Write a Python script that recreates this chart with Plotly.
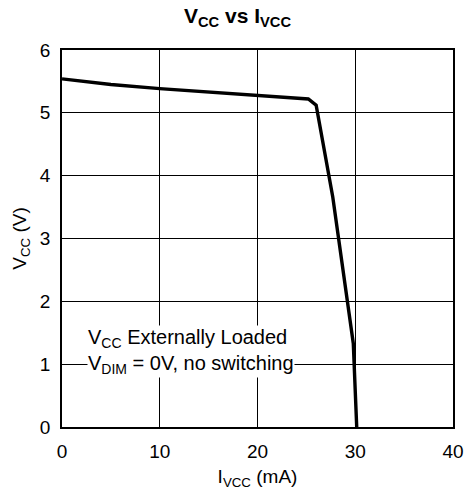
import plotly.graph_objects as go

i_vcc = [0.0, 5.0, 10.0, 15.0, 20.0, 25.2, 26.0, 27.7, 29.8, 30.15]
v_cc = [5.54, 5.45, 5.385, 5.33, 5.28, 5.22, 5.12, 3.66, 1.33, 0.0]

x_ticks = [0, 10, 20, 30, 40]
y_ticks = [0, 1, 2, 3, 4, 5, 6]

FONT = "Liberation Sans, Arial, sans-serif"

fig = go.Figure()
fig.add_trace(go.Scatter(x=i_vcc, y=v_cc, mode="lines",
                         line=dict(color="black", width=3.4, shape="linear"),
                         showlegend=False, hoverinfo="skip"))

fig.update_layout(
    width=475, height=499,
    margin=dict(l=62, r=22, t=50, b=72),
    paper_bgcolor="white", plot_bgcolor="white",
    font=dict(family=FONT, size=19, color="black"),
    title=dict(text="<b>V<sub>CC</sub> vs I<sub>VCC</sub></b>",
               x=0.5, xanchor="center", y=0.984, yanchor="top",
               font=dict(family=FONT, size=21, color="black")),
    xaxis=dict(range=[0, 40], tickvals=x_ticks, ticktext=[str(v) for v in x_ticks],
               showgrid=True, gridcolor="black", gridwidth=1,
               showline=True, linecolor="black", linewidth=1.5, mirror=True,
               ticks="", zeroline=False, automargin=False, ticklabelstandoff=6,
               tickfont=dict(family=FONT, size=19),
               title=dict(text="I<sub>VCC</sub> (mA)", standoff=9,
                          font=dict(family=FONT, size=19))),
    yaxis=dict(range=[0, 6], tickvals=y_ticks, ticktext=[str(v) for v in y_ticks],
               showgrid=True, gridcolor="black", gridwidth=1,
               showline=True, linecolor="black", linewidth=1.5, mirror=True,
               ticks="", zeroline=False, automargin=False, ticklabelstandoff=6,
               tickfont=dict(family=FONT, size=19),
               title=dict(text="V<sub>CC</sub> (V)", standoff=8,
                          font=dict(family=FONT, size=19))),
)

fig.add_annotation(
    x=2.55, y=1.2, xref="x", yref="y", xanchor="left", yanchor="middle",
    text="V<sub>CC</sub> Externally Loaded<br>V<sub>DIM</sub> = 0V, no switching",
    align="left", showarrow=False, bgcolor="white", borderpad=0,
    font=dict(family=FONT, size=20, color="black"),
)

fig.write_html(
    "out.html",
    config={"displayModeBar": False},
    post_script="document.body.style.margin='0';document.body.style.padding='0';"
                "document.body.style.overflow='hidden';",
)
